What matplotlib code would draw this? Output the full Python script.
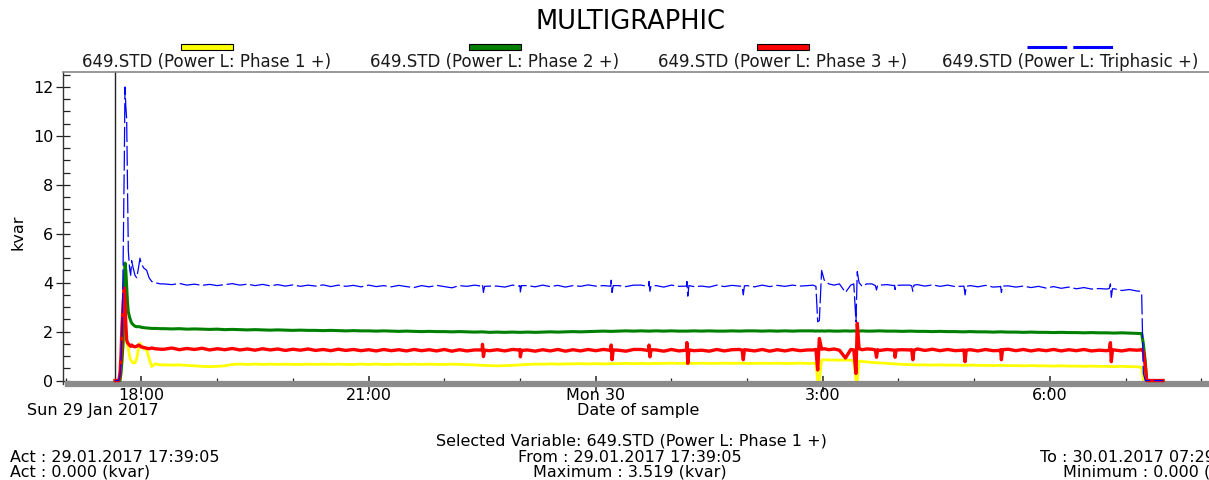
import numpy as np
import pandas as pd
import matplotlib
matplotlib.use("Agg")
import matplotlib.pyplot as plt
import matplotlib.dates as mdates
from matplotlib.patches import Rectangle
from matplotlib.lines import Line2D

plt.rcParams['font.family'] = ['DejaVu Sans']

DAY0 = pd.Timestamp("2017-01-29")

# =========================
# Data (hours after midnight of Sun 29 Jan, values in kvar)
# =========================

T_HEAD = [17.652, 17.70, 17.716, 17.729, 17.742, 17.756, 17.773, 17.782, 17.793,
          17.804, 17.815, 17.826, 17.842, 17.857, 17.870, 17.890, 17.914, 17.937,
          17.960, 17.980, 17.993, 18.03, 18.069, 18.10, 18.135, 18.178, 18.25]
T_BODY1 = list(np.round(np.arange(18.3, 26.85, 0.1), 2))
T_MID = [26.87, 26.91, 26.933, 26.955, 26.985, 27.02, 27.08, 27.15, 27.22,
         27.30, 27.37, 27.41, 27.439, 27.456, 27.48, 27.52, 27.58]
T_BODY2 = list(np.round(np.arange(27.65, 31.2, 0.1), 2))
T_TAIL = [31.19, 31.213, 31.235, 31.26, 31.279, 31.30, 31.494]

PHASE1 = (
    [0, 0, 0, 0.3, 0.9, 1.5, 1.9, 1.8, 1.7, 1.6,
     1.45, 1.3, 1.0, 0.85, 0.78, 0.72, 0.72, 0.9, 1.3, 1.52,
     1.45, 1.3, 1.25, 0.9, 0.57, 0.68, 0.64]
    + [0.64, 0.63, 0.64, 0.62, 0.60, 0.58, 0.57, 0.58, 0.60, 0.66,
       0.67, 0.66, 0.67, 0.66, 0.67, 0.66, 0.67, 0.66, 0.66, 0.67,
       0.66, 0.67, 0.66, 0.67, 0.66, 0.66, 0.67, 0.66, 0.67, 0.66,
       0.66, 0.67, 0.66, 0.67, 0.66, 0.67, 0.66, 0.66, 0.67, 0.66,
       0.65, 0.64, 0.62, 0.61, 0.60, 0.61, 0.62, 0.64, 0.66, 0.67,
       0.67, 0.68, 0.67, 0.68, 0.68, 0.69, 0.68, 0.69, 0.68, 0.69,
       0.69, 0.70, 0.69, 0.70, 0.69, 0.70, 0.70, 0.71, 0.70, 0.71,
       0.70, 0.71, 0.70, 0.70, 0.71, 0.70, 0.71, 0.70, 0.70, 0.71,
       0.70, 0.71, 0.70, 0.70, 0.71, 0.70]
    + [0.70, 0.70, 0.0, 0.0, 0.84, 0.85, 0.84, 0.84, 0.83, 0.84,
       0.83, 0.82, 0.0, 0.0, 0.80, 0.78, 0.76]
    + [0.74, 0.72, 0.70, 0.68, 0.66, 0.65, 0.64, 0.64, 0.63, 0.64,
       0.63, 0.63, 0.62, 0.63, 0.62, 0.62, 0.61, 0.62, 0.61, 0.61,
       0.60, 0.61, 0.60, 0.60, 0.59, 0.60, 0.59, 0.59, 0.58, 0.59,
       0.58, 0.58, 0.57, 0.58, 0.57, 0.56]
    + [0.55, 0.55, 0.0, 0.0, 0.0, 0.0, 0.0]
)

PHASE2 = (
    [0, 0, 0, 0.3, 0.8, 1.5, 4.0, 4.8, 4.5, 3.83,
     3.2, 2.8, 2.6, 2.45, 2.35, 2.28, 2.22, 2.2, 2.2, 2.2,
     2.18, 2.16, 2.15, 2.14, 2.13, 2.13, 2.12]
    + [2.12, 2.11, 2.12, 2.10, 2.11, 2.10, 2.09, 2.10, 2.08, 2.09,
       2.08, 2.07, 2.08, 2.07, 2.06, 2.07, 2.06, 2.05, 2.06, 2.05,
       2.05, 2.04, 2.05, 2.04, 2.03, 2.04, 2.03, 2.03, 2.02, 2.03,
       2.02, 2.01, 2.02, 2.01, 2.00, 2.01, 2.00, 2.00, 1.99, 2.00,
       1.99, 1.98, 1.99, 1.97, 1.98, 1.97, 1.98, 1.97, 1.98, 1.97,
       1.98, 1.99, 1.98, 1.99, 2.00, 1.99, 2.00, 2.01, 2.02, 2.01,
       2.02, 2.03, 2.02, 2.03, 2.02, 2.03, 2.02, 2.03, 2.02, 2.02,
       2.03, 2.02, 2.03, 2.02, 2.02, 2.03, 2.02, 2.03, 2.03, 2.02,
       2.03, 2.02, 2.03, 2.02, 2.03, 2.03]
    + [2.03, 2.02, 2.03, 2.02, 2.03, 2.02, 2.03, 2.02, 2.02, 2.03,
       2.02, 2.03, 2.02, 2.03, 2.02, 2.03, 2.02]
    + [2.02, 2.03, 2.02, 2.02, 2.01, 2.02, 2.01, 2.01, 2.00, 2.01,
       2.00, 2.00, 1.99, 2.00, 1.99, 1.99, 1.98, 1.99, 1.98, 1.98,
       1.97, 1.98, 1.97, 1.97, 1.96, 1.97, 1.96, 1.96, 1.95, 1.96,
       1.95, 1.95, 1.94, 1.95, 1.94, 1.93]
    + [1.93, 1.92, 1.5, 0.8, 0.0, 0.0, 0.0]
)

PHASE3 = (
    [0, 0, 0.3, 1.0, 2.2, 3.0, 3.78, 3.2, 2.3, 1.66,
     1.55, 1.5, 1.45, 1.4, 1.45, 1.4, 1.38, 1.4, 1.45, 1.42,
     1.38, 1.35, 1.32, 1.3, 1.33, 1.3, 1.28]
    + [1.28, 1.33, 1.26, 1.31, 1.27, 1.32, 1.25, 1.30, 1.26, 1.31,
       1.25, 1.29, 1.24, 1.30, 1.25, 1.29, 1.23, 1.28, 1.24, 1.29,
       1.23, 1.27, 1.22, 1.28, 1.23, 1.27, 1.22, 1.26, 1.21, 1.27,
       1.22, 1.26, 1.21, 1.27, 1.22, 1.26, 1.21, 1.27, 1.20, 1.26,
       1.21, 1.25, 1.25, 1.22, 1.26, 1.21, 1.27, 1.27, 1.25, 1.20,
       1.26, 1.21, 1.27, 1.20, 1.26, 1.21, 1.27, 1.22, 1.27, 1.21,
       1.24, 1.20, 1.27, 1.27, 1.21, 1.25, 1.20, 1.27, 1.21, 1.26,
       1.22, 1.24, 1.20, 1.27, 1.21, 1.26, 1.27, 1.25, 1.21, 1.27,
       1.20, 1.26, 1.21, 1.27, 1.22, 1.25]
    + [1.25, 1.27, 0.43, 1.72, 1.28, 1.30, 1.26, 1.29, 1.24, 0.92,
       1.27, 1.25, 0.29, 2.34, 1.30, 1.26, 1.29]
    + [1.28, 1.23, 1.27, 1.24, 1.26, 1.25, 1.29, 1.23, 1.28, 1.22,
       1.27, 1.22, 1.24, 1.26, 1.21, 1.27, 1.22, 1.26, 1.28, 1.22,
       1.27, 1.21, 1.26, 1.22, 1.27, 1.21, 1.26, 1.22, 1.27, 1.21,
       1.24, 1.22, 1.25, 1.21, 1.26, 1.24]
    + [1.25, 1.27, 1.2, 0.6, 0.0, 0.0, 0.0]
)

TRIPHASIC = (
    [0, 0, 0.2, 0.8, 2.0, 4.5, 9.0, 12.0, 11.2, 10.7,
     8.0, 5.3, 4.6, 4.3, 4.9, 4.6, 4.3, 4.2, 4.6, 5.0,
     4.8, 4.6, 4.5, 4.2, 4.05, 4.0, 3.95]
    + [3.95, 3.92, 3.97, 3.90, 3.94, 3.89, 3.93, 3.88, 3.92, 3.96,
       3.90, 3.94, 3.88, 3.93, 3.87, 3.92, 3.86, 3.91, 3.85, 3.90,
       3.86, 3.91, 3.84, 3.90, 3.85, 3.89, 3.83, 3.90, 3.84, 3.88,
       3.83, 3.89, 3.84, 3.80, 3.88, 3.83, 3.89, 3.84, 3.79, 3.88,
       3.85, 3.90, 3.88, 3.86, 3.86, 3.82, 3.90, 3.88, 3.88, 3.83,
       3.90, 3.84, 3.89, 3.82, 3.88, 3.85, 3.91, 3.86, 3.88, 3.85,
       3.88, 3.84, 3.90, 3.90, 3.86, 3.88, 3.82, 3.90, 3.85, 3.87,
       3.84, 3.86, 3.82, 3.90, 3.84, 3.89, 3.86, 3.88, 3.83, 3.90,
       3.84, 3.89, 3.85, 3.90, 3.86, 3.88]
    + [3.90, 3.85, 2.40, 2.45, 4.50, 4.10, 3.95, 3.90, 3.95, 3.60,
       3.90, 3.95, 2.40, 4.45, 4.00, 3.85, 3.95]
    + [3.95, 3.90, 3.92, 3.89, 3.90, 3.90, 3.92, 3.86, 3.91, 3.85,
       3.90, 3.84, 3.86, 3.88, 3.83, 3.89, 3.82, 3.85, 3.87, 3.82,
       3.86, 3.80, 3.85, 3.78, 3.84, 3.77, 3.82, 3.75, 3.80, 3.74,
       3.76, 3.74, 3.75, 3.68, 3.72, 3.66]
    + [3.65, 3.57, 0.3, 0.0, 0.0, 0.0, 0.0]
)

# short spikes of phase 3 and of the triphasic sum
SPIKE_T = [22.49, 22.505, 22.517, 22.532,
           22.99, 23.005, 23.02,
           24.19, 24.205, 24.217, 24.232,
           24.69, 24.705, 24.717, 24.732,
           25.19, 25.205, 25.217, 25.232,
           25.935, 25.95, 25.965,
           27.695, 27.71, 27.725,
           27.94, 27.955, 27.97,
           28.175, 28.19, 28.205,
           28.865, 28.88, 28.895,
           29.345, 29.36, 29.375,
           30.785, 30.80, 30.812, 30.827]
PHASE3_SPIKES = [1.25, 1.48, 0.98, 1.24,
                 1.25, 0.97, 1.23,
                 1.24, 1.45, 0.85, 1.25,
                 1.23, 1.45, 0.97, 1.26,
                 1.24, 1.55, 0.70, 1.25,
                 1.24, 0.85, 1.26,
                 1.25, 0.95, 1.26,
                 1.24, 0.95, 1.25,
                 1.26, 0.85, 1.24,
                 1.25, 0.77, 1.24,
                 1.23, 0.85, 1.26,
                 1.24, 1.55, 0.77, 1.25]
TRIPHASIC_SPIKES = [3.86, 3.92, 3.60, 3.85,
                    3.86, 3.62, 3.88,
                    3.86, 4.10, 3.60, 3.88,
                    3.85, 4.05, 3.65, 3.87,
                    3.86, 4.05, 3.45, 3.88,
                    3.85, 3.50, 3.87,
                    3.88, 3.70, 3.90,
                    3.88, 3.72, 3.89,
                    3.87, 3.65, 3.90,
                    3.86, 3.50, 3.85,
                    3.84, 3.60, 3.86,
                    3.76, 3.95, 3.40, 3.75]

LABELS = ["649.STD (Power L: Phase 1 +)", "649.STD (Power L: Phase 2 +)",
          "649.STD (Power L: Phase 3 +)", "649.STD (Power L: Triphasic +)"]
COLORS = ["#ffff00", "#008000", "#ff0000", "#0000ff"]

CURSOR_H = 17.652          # 17:39:05
XLIM_H = [16.963, 32.38]
YLIM = (-0.15, 12.6)


def to_num(hours):
    t = DAY0 + pd.to_timedelta(np.asarray(hours, dtype=float), unit="h")
    return mdates.date2num(t.to_pydatetime())


def with_spikes(hours, values, spike_h, spike_v):
    h = np.concatenate([hours, spike_h])
    v = np.concatenate([values, spike_v])
    order = np.argsort(h, kind="stable")
    return to_num(h[order]), v[order]


def fmt_tick(x, pos=None):
    dt = mdates.num2date(x)
    if dt.hour == 0:
        return dt.strftime("%a %d")
    return f"{dt.hour}:00"


hours = np.array(T_HEAD + T_BODY1 + T_MID + T_BODY2 + T_TAIL)
times = to_num(hours)
t3, v3 = with_spikes(hours, PHASE3, SPIKE_T, PHASE3_SPIKES)
tt, vt = with_spikes(hours, TRIPHASIC, SPIKE_T, TRIPHASIC_SPIKES)

W, H = 1209, 480
fig = plt.figure(figsize=(W / 100, H / 100), dpi=100)
ax = fig.add_axes([63 / W, 1 - 384.2 / H, (1230 - 63) / W, (384.2 - 72.3) / H])
ax.xaxis_date()

ax.plot(times, PHASE1, color=COLORS[0], lw=2.0, zorder=2)
ax.plot(times, PHASE2, color=COLORS[1], lw=2.2, zorder=3)
ax.plot(t3, v3, color=COLORS[2], lw=2.4, zorder=4)
ax.plot(tt, vt, color=COLORS[3], lw=0.9, zorder=5, linestyle=(0, (16, 3)))

ax.axvline(to_num([CURSOR_H])[0], color="#222222", lw=1.0, zorder=1)

ax.set_xlim(*to_num(XLIM_H))
ax.set_ylim(*YLIM)

ax.xaxis.set_major_locator(mdates.HourLocator(byhour=range(0, 24, 3)))
ax.xaxis.set_minor_locator(mdates.HourLocator())
ax.xaxis.set_major_formatter(plt.FuncFormatter(fmt_tick))
ax.set_yticks(np.arange(0, 13, 2))
ax.set_yticks(np.arange(0, 12.6, 0.5), minor=True)

ax.tick_params(axis="x", which="major", direction="inout", length=11, width=1.1,
               color="#222222", pad=-2.6, labelsize=11.5)
ax.tick_params(axis="x", which="minor", direction="in", length=4, width=0.9,
               color="#222222")
ax.tick_params(axis="y", which="major", direction="inout", length=10, width=0.9,
               color="#222222", pad=2, labelsize=11.5)
ax.tick_params(axis="y", which="minor", direction="in", length=5, width=0.9,
               color="#222222")

ax.spines["right"].set_visible(False)
ax.spines["left"].set_color("#333333")
ax.spines["left"].set_linewidth(1.0)
ax.spines["top"].set_color("#888888")
ax.spines["top"].set_linewidth(1.2)
ax.spines["bottom"].set_color("#8c8c8c")
ax.spines["bottom"].set_linewidth(4.5)
ax.spines["bottom"].set_bounds(*to_num([17.03, XLIM_H[1]]))

# titulo e legenda feita a mao, como no software original
fig.text(631 / W, 1 - 22 / H, "MULTIGRAPHIC", ha="center", va="center", fontsize=18.5)
centers = [206.5, 494.5, 783, 1070]
for i, (cx, lab) in enumerate(zip(centers, LABELS)):
    fig.text(cx / W, 1 - 62 / H, lab, ha="center", va="center", fontsize=12,
             color="#1a1a1a")
    if i < 3:
        fig.patches.append(Rectangle(((cx - 26) / W, 1 - 50 / H), 52 / W, 6 / H,
                                     transform=fig.transFigure, facecolor=COLORS[i],
                                     edgecolor="black", lw=0.8))
    else:
        fig.lines.append(Line2D([(cx - 43) / W, (cx + 43) / W], [1 - 46.5 / H] * 2,
                                transform=fig.transFigure, color=COLORS[i], lw=2.2,
                                linestyle=(0, (13, 2))))

fig.text(18 / W, 1 - 232 / H, "kvar", rotation=90, ha="center", va="center",
         fontsize=11.5)
fig.text(27 / W, 1 - 410 / H, "Sun 29 Jan 2017", ha="left", va="center", fontsize=11.5)
fig.text(638 / W, 1 - 410 / H, "Date of sample", ha="center", va="center", fontsize=11.5)

fig.text(631 / W, 1 - 441 / H, "Selected Variable: 649.STD (Power L: Phase 1 +)",
         ha="center", va="center", fontsize=11.5)
fig.text(10 / W, 1 - 457 / H, "Act : 29.01.2017 17:39:05", ha="left", va="center",
         fontsize=11.5)
fig.text(10 / W, 1 - 472 / H, "Act : 0.000 (kvar)", ha="left", va="center", fontsize=11.5)
fig.text(630 / W, 1 - 457 / H, "From : 29.01.2017 17:39:05", ha="center", va="center",
         fontsize=11.5)
fig.text(630 / W, 1 - 472 / H, "Maximum : 3.519 (kvar)", ha="center", va="center",
         fontsize=11.5)
fig.text(1040 / W, 1 - 457 / H, "To : 30.01.2017 07:29:05", ha="left", va="center",
         fontsize=11.5)
fig.text(1063 / W, 1 - 472 / H, "Minimum : 0.000 (kvar)", ha="left", va="center",
         fontsize=11.5)

fig.savefig("out.png", dpi=100)
